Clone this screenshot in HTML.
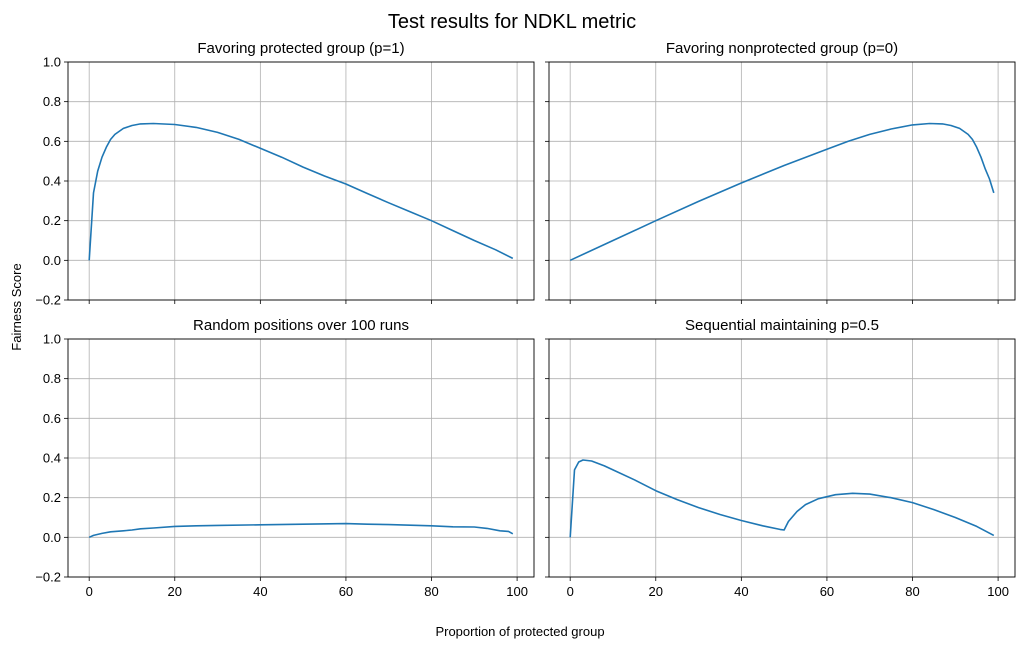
<!DOCTYPE html>
<html><head><meta charset="utf-8"><style>
body{margin:0;background:#fff;}
svg{display:block;font-family:"Liberation Sans","DejaVu Sans",sans-serif;}
</style></head><body>
<svg id="chart" width="1025" height="648">
<text x="512" y="28" font-size="20" text-anchor="middle">Test results for NDKL metric</text>
<text x="520" y="636" font-size="13" text-anchor="middle">Proportion of protected group</text>
<text transform="translate(21,307) rotate(-90)" font-size="13" text-anchor="middle">Fairness Score</text>
</svg>
<script>
const xTicks=[0,20,40,60,80,100];
const yTicks=[-0.2,0,0.2,0.4,0.6,0.8,1.0];
const titles=["Favoring protected group (p=1)","Favoring nonprotected group (p=0)","Random positions over 100 runs","Sequential maintaining p=0.5"];
const x1=[0,1,2,3,4,5,6,8,10,12,15,20,25,30,35,40,45,50,55,60,65,70,75,80,85,90,95,99];
const y1=[0,0.34,0.45,0.52,0.57,0.61,0.635,0.665,0.68,0.688,0.69,0.685,0.67,0.645,0.61,0.565,0.52,0.47,0.425,0.385,0.337,0.29,0.245,0.2,0.15,0.1,0.053,0.01];
const x2=[0,10,20,30,40,50,60,65,70,75,80,84,87,89,91,93,94,95,96,97,98,99];
const y2=[0,0.1,0.2,0.297,0.39,0.478,0.56,0.6,0.635,0.662,0.683,0.69,0.688,0.68,0.665,0.635,0.61,0.57,0.52,0.46,0.41,0.34];
const x3=[0,1,3,5,8,10,12,15,20,25,30,40,50,60,65,70,80,85,90,93,96,98,99];
const y3=[0,0.01,0.02,0.028,0.033,0.037,0.043,0.047,0.055,0.058,0.06,0.063,0.066,0.069,0.066,0.064,0.058,0.053,0.052,0.045,0.033,0.03,0.018];
const x4=[0,1,2,3,5,8,10,15,20,25,30,35,40,45,49,50,51,53,55,58,62,66,70,75,80,85,90,95,99];
const y4=[0,0.34,0.38,0.39,0.385,0.36,0.34,0.29,0.235,0.19,0.15,0.115,0.085,0.058,0.04,0.037,0.08,0.13,0.165,0.195,0.215,0.222,0.218,0.2,0.175,0.14,0.1,0.055,0.01];
const series=[[x1,y1],[x2,y2],[x3,y3],[x4,y4]];
const NS="http://www.w3.org/2000/svg";
const svg=document.getElementById('chart');
const panels=[{l:68,t:62},{l:549,t:62},{l:68,t:339},{l:549,t:339}];
const W=466,H=238;
function mk(tag,attrs,parent){const e=document.createElementNS(NS,tag);for(const k in attrs)e.setAttribute(k,attrs[k]);(parent||svg).appendChild(e);return e;}
panels.forEach((p,i)=>{
  const sx=v=>p.l+(v+4.95)/108.9*W;
  const sy=v=>p.t+(1.0-v)/1.2*H;
  const g=mk('g',{});
  
  
  xTicks.forEach(t=>{
    const l=mk('line',{x1:sx(t),x2:sx(t),y1:p.t,y2:p.t+H,stroke:'#b0b0b0','stroke-width':0.8},g);
    
    
    mk('line',{x1:sx(t),x2:sx(t),y1:p.t+H,y2:p.t+H+4,stroke:'#000','stroke-width':0.8},g);
    if(i>=2){const tx=mk('text',{x:sx(t),y:p.t+H+19,'font-size':13,'text-anchor':'middle'},g);tx.textContent=t;
      
      }
  });
  yTicks.forEach(t=>{
    const l=mk('line',{x1:p.l,x2:p.l+W,y1:sy(t),y2:sy(t),stroke:'#b0b0b0','stroke-width':0.8},g);
    
    
    mk('line',{x1:p.l-4,x2:p.l,y1:sy(t),y2:sy(t),stroke:'#000','stroke-width':0.8},g);
    if(i%2==0){const tx=mk('text',{x:p.l-7,y:sy(t)+4.5,'font-size':13,'text-anchor':'end'},g);tx.textContent=(t<0?'\u2212':'')+Math.abs(t).toFixed(1);
      
      }
  });
  const [xs,ys]=series[i];
  const d=xs.map((x,j)=>(j?'L':'M')+sx(x).toFixed(1)+','+sy(ys[j]).toFixed(1)).join('');
  const path=mk('path',{d:d,fill:'none',stroke:'#1f77b4','stroke-width':1.6,'stroke-linejoin':'round'},g);
  
  
  const r=mk('rect',{x:p.l,y:p.t,width:W,height:H,fill:'none',stroke:'#000','stroke-width':0.9},g);
  
  
  const tt=mk('text',{x:p.l+W/2,y:p.t-9,'font-size':15,'text-anchor':'middle'},g);
  tt.textContent=titles[i];
  
  
});
</script>
</body></html>
